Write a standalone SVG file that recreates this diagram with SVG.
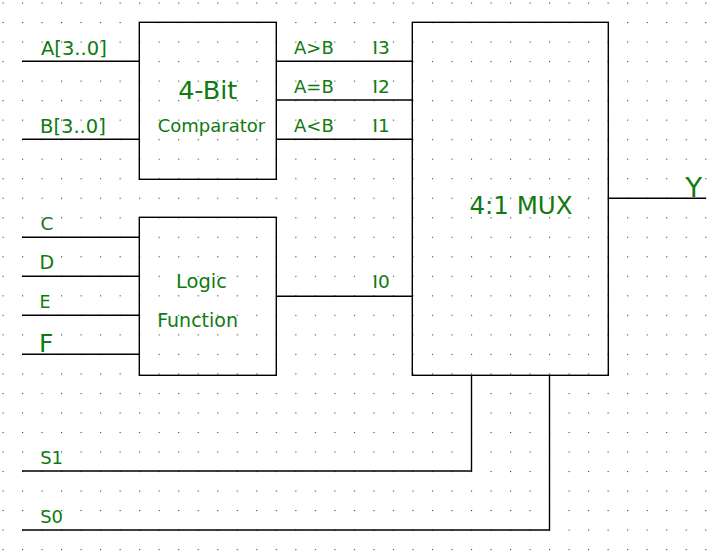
<svg xmlns="http://www.w3.org/2000/svg" width="713" height="552" viewBox="0 0 713 552">
<style>
.box{fill:none;stroke:#000;stroke-width:1.4}
.w{fill:none;stroke:#000;stroke-width:1.4}
.t{font-family:"DejaVu Sans","Liberation Sans",sans-serif;fill:#107a10}
</style>
<defs>
<pattern id="grid" patternUnits="userSpaceOnUse" x="2.5" y="2.5" width="19.52" height="19.52">
<rect x="0" y="0" width="1.1" height="1.1" fill="#3a3a3a"/>
</pattern>
</defs>
<rect width="713" height="552" fill="#fff"/>
<rect width="713" height="552" fill="url(#grid)"/>
<g id="connectors">
<path class="w" d="M22 61.3H139.3"/>
<path class="w" d="M22 139.3H139.3"/>
<path class="w" d="M276.3 61.3H412.3"/>
<path class="w" d="M276.3 100H412.3"/>
<path class="w" d="M276.3 139.3H412.3"/>
<path class="w" d="M22 237.3H139.3"/>
<path class="w" d="M22 276.3H139.3"/>
<path class="w" d="M22 315.3H139.3"/>
<path class="w" d="M22 354.3H139.3"/>
<path class="w" d="M276.3 296.3H412.3"/>
<path class="w" d="M608.3 198.3H706"/>
<path class="w" d="M22 471H471.5V375.3"/>
<path class="w" d="M22 530H549.5V375.3"/>
</g>
<g id="inputs">
<text class="t" x="41" y="55" font-size="19.5">A[3..0]</text>
<text class="t" x="40" y="133" font-size="19.5">B[3..0]</text>
<text class="t" x="40.5" y="230" font-size="18.5">C</text>
<text class="t" x="39.5" y="269" font-size="19">D</text>
<text class="t" x="39.5" y="308.3" font-size="17.5">E</text>
<text class="t" x="39" y="351.7" font-size="25">F</text>
<text class="t" x="40.2" y="464.3" font-size="18">S1</text>
<text class="t" x="40.2" y="522.7" font-size="18">S0</text>
</g>
<g id="comparator">
<rect class="box" x="139.3" y="22.3" width="137" height="157"/>
<text class="t" x="207.7" y="99" font-size="25.5" text-anchor="middle">4-Bit</text>
<text class="t" x="211.5" y="131.7" font-size="18" text-anchor="middle">Comparator</text>
<text class="t" x="294" y="54" font-size="18">A&gt;B</text>
<text class="t" x="294" y="93.3" font-size="18">A=B</text>
<text class="t" x="294" y="132.3" font-size="18">A&lt;B</text>
</g>
<g id="logic">
<rect class="box" x="139.3" y="217.3" width="137" height="158"/>
<text class="t" x="176" y="288.3" font-size="19.5">Logic</text>
<text class="t" x="157.2" y="327.3" font-size="19">Function</text>
</g>
<g id="mux">
<rect class="box" x="412.3" y="22.3" width="196" height="353"/>
<text class="t" x="372.5" y="54" font-size="18.5">I3</text>
<text class="t" x="372.5" y="93.3" font-size="18.5">I2</text>
<text class="t" x="372.5" y="132.3" font-size="18.5">I1</text>
<text class="t" x="372.5" y="288.3" font-size="18.5">I0</text>
<text class="t" x="469.5" y="214" font-size="24.5">4:1 MUX</text>
</g>
<g id="output">
<text class="t" x="685.5" y="196.7" font-size="27">Y</text>
</g>
</svg>
